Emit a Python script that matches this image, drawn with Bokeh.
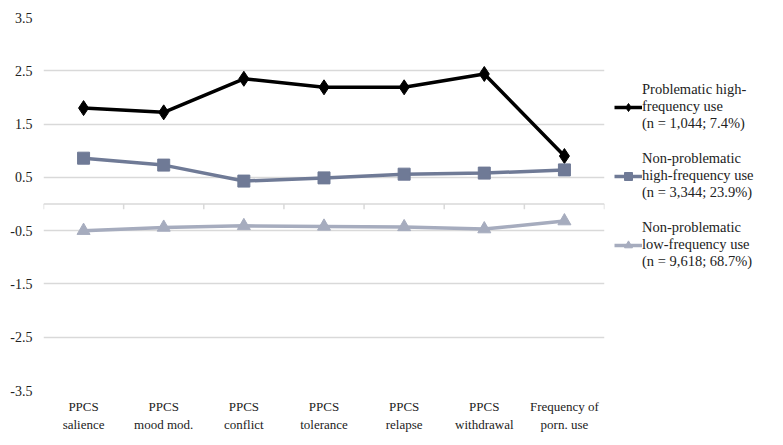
from bokeh.plotting import figure
from bokeh.models import FixedTicker, Legend, LegendItem, Span, Range1d
from bokeh.embed import file_html
from bokeh.resources import INLINE

categories = ["PPCS\nsalience", "PPCS\nmood mod.", "PPCS\nconflict", "PPCS\ntolerance",
              "PPCS\nrelapse", "PPCS\nwithdrawal", "Frequency of\nporn. use"]
problematic = [1.80, 1.72, 2.35, 2.19, 2.19, 2.44, 0.90]
nonprob_high = [0.86, 0.73, 0.43, 0.49, 0.56, 0.58, 0.64]
nonprob_low = [-0.50, -0.44, -0.41, -0.42, -0.43, -0.47, -0.32]
yticks = [-3.5, -2.5, -1.5, -0.5, 0.5, 1.5, 2.5, 3.5]
labels = ["Problematic high-\nfrequency use\n(n = 1,044; 7.4%)",
          "Non-problematic\nhigh-frequency use\n(n = 3,344; 23.9%)",
          "Non-problematic\nlow-frequency use\n(n = 9,618; 68.7%)"]

FONT = "Liberation Serif"
xs = [i + 0.5 for i in range(len(categories))]

p = figure(frame_width=561, frame_height=373, output_backend="svg", toolbar_location=None,
           x_range=Range1d(0, len(categories)), y_range=Range1d(-3.5, 3.5),
           min_border_left=43, min_border_top=17, min_border_bottom=39, min_border_right=0)
p.outline_line_color = None
p.xgrid.visible = False
p.ygrid.grid_line_color = "#d9d9d9"
p.ygrid.grid_line_width = 1.5

p.yaxis.ticker = FixedTicker(ticks=yticks)
p.yaxis.major_label_overrides = {t: f"{t:g}" for t in yticks}
p.yaxis.axis_line_color = None
p.yaxis.major_tick_line_color = None
p.yaxis.minor_tick_line_color = None
p.yaxis.major_label_text_font = FONT
p.yaxis.major_label_text_font_size = "14px"
p.yaxis.major_label_text_color = "#222222"

p.xaxis.ticker = FixedTicker(ticks=xs)
p.xaxis.major_label_overrides = {x: c for x, c in zip(xs, categories)}
p.xaxis.axis_line_color = None
p.xaxis.major_tick_line_color = None
p.xaxis.minor_tick_line_color = None
p.xaxis.major_label_text_font = FONT
p.xaxis.major_label_text_font_size = "13px"
p.xaxis.major_label_text_color = "#222222"
p.xaxis.major_label_standoff = 2

p.add_layout(Span(location=0, dimension="width", line_color="#d9d9d9", line_width=1.5))
bx = list(range(len(categories) + 1))
p.segment(x0=bx, y0=[0] * len(bx), x1=bx, y1=[-0.1] * len(bx), line_color="#d9d9d9", line_width=1.5)

l1 = p.line(xs, problematic, line_color="black", line_width=3.5)
m1 = p.scatter(xs, problematic, marker="diamond", size=15, color="black")
l2 = p.line(xs, nonprob_high, line_color="#6f7a96", line_width=3.5)
m2 = p.scatter(xs, nonprob_high, marker="square", size=12, color="#6f7a96")
l3 = p.line(xs, nonprob_low, line_color="#a6acbe", line_width=3.5)
m3 = p.scatter(xs, nonprob_low, marker="triangle", size=13, color="#a6acbe")

legend = Legend(items=[LegendItem(label=labels[0], renderers=[l1, m1]),
                       LegendItem(label=labels[1], renderers=[l2, m2]),
                       LegendItem(label=labels[2], renderers=[l3, m3])],
                location=(10, 120), border_line_color=None, background_fill_alpha=0,
                label_text_font=FONT, label_text_font_size="14.5px",
                label_text_color="#222222", glyph_width=28, spacing=18,
                padding=0, margin=5, label_standoff=0, label_height=50)
p.add_layout(legend, "right")

open("out.html", "w").write(file_html(p, INLINE))
